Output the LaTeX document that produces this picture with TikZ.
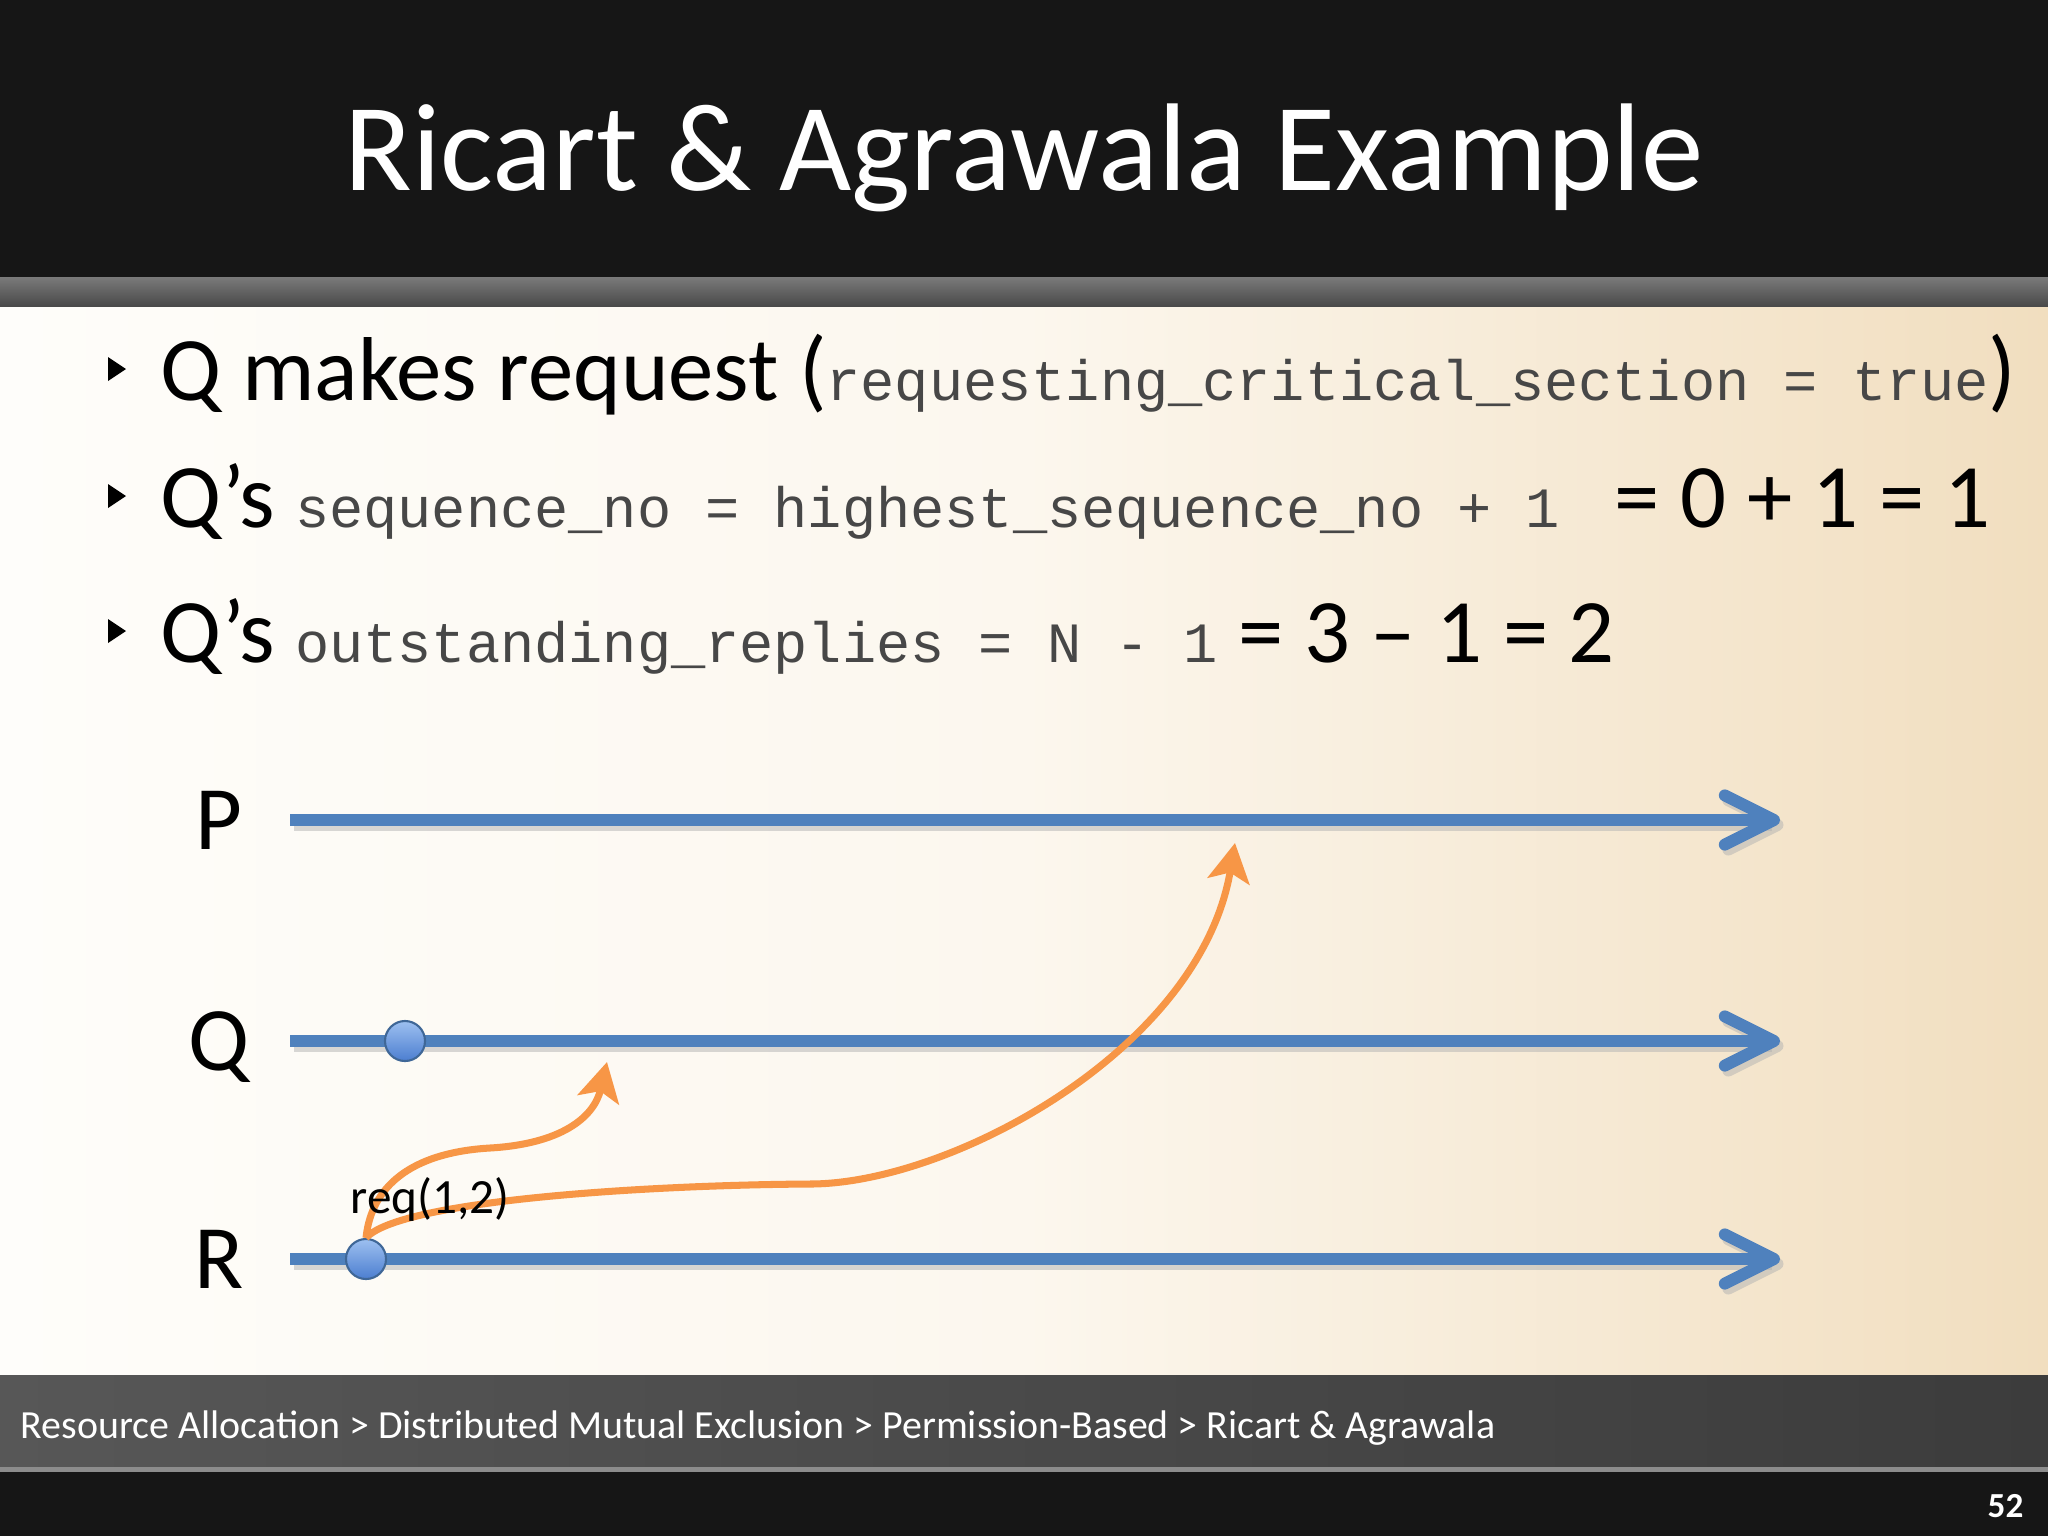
\documentclass[tikz,border=0pt]{standalone}
\usepackage{fontspec}
\setmainfont{Carlito}
\newfontfamily\codefont{Liberation Mono}
\usepackage{tikz}
\usetikzlibrary{arrows.meta}
\usetikzlibrary{positioning}
\usepackage{xcolor}
\definecolor{headblack}{HTML}{161616}
\definecolor{barlight}{HTML}{7A7A7A}
\definecolor{bardark}{HTML}{484848}
\definecolor{footleft}{HTML}{575757}
\definecolor{footright}{HTML}{3C3C3C}
\definecolor{paperleft}{HTML}{FEFDFA}
\definecolor{papermid}{HTML}{FCF7EE}
\definecolor{paperright}{HTML}{F1DEBF}
\definecolor{timeblue}{HTML}{4F81BD}
\definecolor{msgorange}{HTML}{F79646}
\definecolor{dottop}{HTML}{9DC0F0}
\definecolor{dotbottom}{HTML}{4C7ED0}
\newcommand{\codetext}{\codefont\fontsize{16.2}{19}\selectfont\color{black!72}}

\begin{document}
\begin{tikzpicture}[x=0.01cm, y=-0.01cm,
    bodytext/.style={anchor=base west, inner sep=0pt, font=\fontsize{25.8}{30}\selectfont},
    proclabel/.style={anchor=base, inner sep=0pt, font=\fontsize{25.8}{30}\selectfont},
    timeline/.style={draw=timeblue, line width=3.4pt,
      -{Straight Barb[length=14pt, width=14pt, round]}},
    lineshadow/.style={draw=black!30, opacity=.5, line width=3.4pt,
      -{Straight Barb[length=14pt, width=14pt, round]},
      transform canvas={shift={(1pt,-1.4pt)}}},
    msg/.style={draw=msgorange, line width=2pt,
      -{Stealth[length=11pt, width=12pt, inset=2.5pt]}},
    eventdot/.style={circle, minimum size=0.4cm, inner sep=0pt,
      top color=dottop, bottom color=dotbottom, draw=timeblue!80!black, line width=.6pt}]
  \useasboundingbox (0,0) rectangle (2048,1536);

  % slide background
  \fill[headblack] (0,0) rectangle (2048,277);
  \shade[top color=barlight, bottom color=bardark] (0,277) rectangle (2048,307);
  \shade[left color=paperleft, right color=paperright, middle color=papermid] (0,307) rectangle (2048,1375);
  \shade[left color=footleft, right color=footright] (0,1375) rectangle (2048,1467);
  \fill[black!45] (0,1467) rectangle (2048,1472);
  \fill[headblack] (0,1472) rectangle (2048,1536);

  \node[white, anchor=base, inner sep=0pt, font=\fontsize{35.5}{40}\selectfont] (title) at (1024,190) {Ricart \& Agrawala Example};

  % bullets
  \foreach \y in {369,496,631}
    \fill (108,\y-12) -- ++(18,12) -- ++(-18,12) -- cycle;
  \node[bodytext] (line1) at (160,400) {Q makes request ({\codetext requesting\_critical\_section = true})};
  \node[bodytext] (line2) at (160,527) {Q’s {\codetext sequence\_no = highest\_sequence\_no + 1\ } = 0 + 1 = 1};
  \node[bodytext] (line3) at (160,662) {Q’s {\codetext outstanding\_replies = N - 1} = 3 – 1 = 2};

  % processes
  \node[proclabel] (plabel) at (219,849) {P};
  \node[proclabel] (qlabel) at (219,1070) {Q};
  \node[proclabel] (rlabel) at (219,1288) {R};
  \coordinate (p0) at (290,820);  \coordinate (p1) at (1780,820);
  \coordinate (q0) at (290,1041); \coordinate (q1) at (1780,1041);
  \coordinate (r0) at (290,1259); \coordinate (r1) at (1780,1259);
  \foreach \p in {p,q,r} {
    \draw[lineshadow] (\p0) -- (\p1);
    \draw[timeline] (\p0) -- (\p1);
  }

  % request messages
  \coordinate (qmsg) at (607,1062);
  \coordinate (pmsg) at (1235,843);
  \node[eventdot] (rdot) at (366,1259) {};
  \draw[msg] (rdot.north) .. controls (372,1180) and (420,1152) .. (490,1148)
    .. controls (560,1144) and (594,1118) .. (qmsg);
  \draw[msg] (rdot.north) .. controls (400,1200) and (650,1185) .. (810,1184)
    .. controls (950,1184) and (1200,1050) .. (pmsg);
  \node[eventdot] (qdot) at (405,1041) {};
  \node[anchor=base west, inner sep=0pt, font=\fontsize{14}{16}\selectfont] (reqlabel) at (350,1213) {req(1,2)};

  % footer
  \node[white, anchor=base west, inner sep=0pt, font=\fontsize{11.35}{13}\selectfont] (crumbs) at (20,1438)
    {Resource Allocation > Distributed Mutual Exclusion > Permission-Based > Ricart \& Agrawala};
  \node[white, anchor=base east, inner sep=0pt, font=\bfseries\fontsize{10}{12}\selectfont] (pagenum) at (2024,1517) {52};
\end{tikzpicture}
\end{document}
